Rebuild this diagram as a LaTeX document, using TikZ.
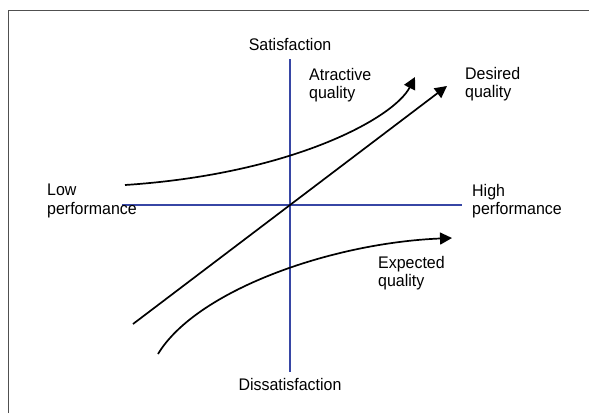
\documentclass[tikz,border=0pt]{standalone}
\usepackage{fontspec}
\setmainfont[FakeStretch=0.95]{Liberation Sans}
\usetikzlibrary{arrows.meta}
\definecolor{axisblue}{RGB}{55,70,165}
\definecolor{framegray}{RGB}{80,80,80}
\begin{document}
\begin{tikzpicture}[x=1pt,y=-1pt,
  axisline/.style={draw=axisblue,line width=1.6pt},
  curveline/.style={draw=black,line width=1.7pt,-{Triangle[length=12pt,width=12pt]}},
  lbl/.style={inner sep=0pt,align=left,font=\fontsize{16.8}{18.5}\selectfont},
  frameline/.style={draw=framegray,line width=1.8pt}]
  \useasboundingbox (0,0) rectangle (589,413);
  % frame edges
  \coordinate (fbl) at (8.5,413);
  \coordinate (ftl) at (8.5,10.5);
  \coordinate (ftr) at (589,10.5);
  \draw[frameline] (fbl) -- (ftl) -- (ftr);
  % axes
  \coordinate (ytop) at (290,59);
  \coordinate (ybot) at (290,372);
  \coordinate (xl) at (122,205);
  \coordinate (xr) at (462,205);
  \draw[axisline] (ytop) -- (ybot);
  \draw[axisline] (xl) -- (xr);
  % axis labels
  \node[lbl,anchor=base] (sat) at (290,50) {Satisfaction};
  \node[lbl,anchor=base] (dis) at (290,390) {Dissatisfaction};
  \node[lbl,anchor=north west] (low) at (47,184) {Low\\performance};
  \node[lbl,anchor=north west] (high) at (472,184) {High\\performance};
  % quality curves
  \coordinate (a0) at (125,185);
  \coordinate (a1) at (415,77);
  \draw[curveline] (a0) .. controls (292,174) and (394,118) .. (a1);
  \coordinate (d0) at (133,324);
  \coordinate (d1) at (447,86);
  \draw[curveline] (d0) -- (d1);
  \coordinate (e0) at (158,354);
  \coordinate (e1) at (452,238);
  \draw[curveline] (e0) .. controls (196,291) and (330,243) .. (e1);
  \node[lbl,anchor=north west] (atr) at (309,68) {Atractive\\quality};
  \node[lbl,anchor=north west] (des) at (465,67) {Desired\\quality};
  \node[lbl,anchor=north west] (exp) at (378,256) {Expected\\quality};
\end{tikzpicture}
\end{document}
